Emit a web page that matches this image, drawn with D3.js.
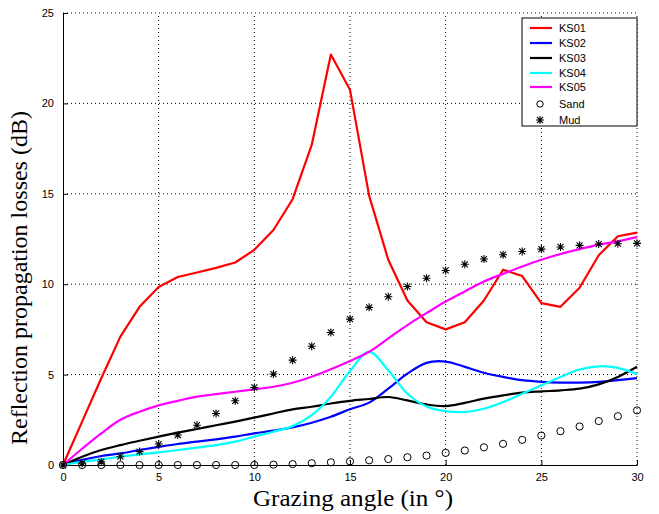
<!DOCTYPE html>
<html>
<head>
<meta charset="utf-8">
<script src="https://cdn.jsdelivr.net/npm/d3@7"></script>
<style>
  body { margin: 0; background: #fff; }
  svg { display: block; }
</style>
</head>
<body>
<div id="chart"></div>
<script>
// grazing angles (deg) and reflection losses (dB)
var angles = [0, 1, 2, 3, 4, 5, 6, 7, 8, 9, 10, 11, 12, 13, 14, 15, 16, 17, 18, 19, 20, 21, 22, 23, 24, 25, 26, 27, 28, 29, 30];
var ks01 = [0, 2.4, 4.8, 7.1, 8.75, 9.85, 10.4, 10.65, 10.9, 11.2, 11.9, 13.0, 14.7, 17.7, 22.7, 20.75, 14.9, 11.35, 9.1, 7.9, 7.5, 7.9, 9.1, 10.8, 10.45, 8.95, 8.75, 9.8, 11.6, 12.65, 12.85];
var ks02 = [0, 0.28, 0.5, 0.64, 0.83, 1.0, 1.16, 1.29, 1.42, 1.57, 1.75, 1.9, 2.08, 2.34, 2.67, 3.08, 3.45, 4.22, 5.05, 5.65, 5.72, 5.43, 5.1, 4.87, 4.69, 4.6, 4.56, 4.56, 4.6, 4.69, 4.8];
var ks03 = [0, 0.46, 0.83, 1.1, 1.34, 1.57, 1.79, 1.99, 2.2, 2.4, 2.62, 2.85, 3.08, 3.22, 3.4, 3.55, 3.65, 3.76, 3.57, 3.35, 3.26, 3.44, 3.67, 3.85, 4.0, 4.07, 4.13, 4.22, 4.46, 4.87, 5.43];
var ks04 = [0, 0.18, 0.31, 0.46, 0.59, 0.7, 0.83, 0.96, 1.1, 1.29, 1.57, 1.84, 2.15, 2.76, 3.78, 5.2, 6.26, 5.24, 3.94, 3.24, 2.98, 2.93, 3.11, 3.48, 3.94, 4.41, 4.87, 5.28, 5.46, 5.37, 5.02];
var ks05 = [0, 0.9, 1.75, 2.5, 2.95, 3.3, 3.55, 3.78, 3.92, 4.05, 4.18, 4.33, 4.55, 4.88, 5.29, 5.75, 6.26, 7.0, 7.74, 8.4, 9.04, 9.6, 10.15, 10.57, 10.98, 11.35, 11.67, 11.94, 12.19, 12.37, 12.6];
var sand = [0, 0, 0, 0, 0, 0, 0, 0, 0, 0, 0, 0.02, 0.05, 0.1, 0.15, 0.2, 0.26, 0.33, 0.43, 0.52, 0.67, 0.8, 0.98, 1.17, 1.39, 1.63, 1.87, 2.13, 2.43, 2.7, 3.02];
var mud = [0, 0.1, 0.18, 0.46, 0.74, 1.16, 1.66, 2.2, 2.85, 3.55, 4.29, 5.03, 5.8, 6.57, 7.33, 8.07, 8.72, 9.31, 9.87, 10.33, 10.76, 11.1, 11.39, 11.63, 11.81, 11.94, 12.06, 12.15, 12.22, 12.24, 12.26];

var xTicks = [0, 5, 10, 15, 20, 25, 30];
var yTicks = [0, 5, 10, 15, 20, 25];

var lineNames = ["KS01", "KS02", "KS03", "KS04", "KS05"];
var lineData = [ks01, ks02, ks03, ks04, ks05];
var lineColors = ["#ff0000", "#0000ff", "#000000", "#00ffff", "#ff00ff"];

var W = 659, H = 514;
var margin = { left: 63, right: 22, top: 13, bottom: 49 };

var svg = d3.select("#chart").append("svg")
  .attr("width", W)
  .attr("height", H);

var x = d3.scaleLinear().domain([0, 30]).range([margin.left, W - margin.right]);
var y = d3.scaleLinear().domain([0, 25]).range([H - margin.bottom, margin.top]);

// dotted grid
var grid = svg.append("g").attr("stroke", "#000").attr("stroke-width", 1).attr("stroke-dasharray", "1,3");
grid.selectAll("line.gx")
  .data(xTicks.filter(function (d) { return d > 0; }))
  .enter().append("line")
  .attr("x1", function (d) { return x(d); })
  .attr("x2", function (d) { return x(d); })
  .attr("y1", y(0))
  .attr("y2", y(25));
grid.selectAll("line.gy")
  .data(yTicks.filter(function (d) { return d > 0; }))
  .enter().append("line")
  .attr("x1", x(0))
  .attr("x2", x(30))
  .attr("y1", function (d) { return y(d); })
  .attr("y2", function (d) { return y(d); });

// axes (inward ticks)
var xAxis = d3.axisBottom(x).tickValues(xTicks).tickSizeInner(-5).tickSizeOuter(0).tickPadding(8);
var yAxis = d3.axisLeft(y).tickValues(yTicks).tickSizeInner(-5).tickSizeOuter(0).tickPadding(9);

var gx = svg.append("g").attr("transform", "translate(0," + y(0) + ")").call(xAxis);
var gy = svg.append("g").attr("transform", "translate(" + x(0) + ",0)").call(yAxis);
[gx, gy].forEach(function (g) {
  g.selectAll("path").attr("stroke", "#000").attr("stroke-width", 1);
  g.selectAll("line").attr("stroke", "#000");
  g.selectAll("text")
    .attr("fill", "#000")
    .style("font-family", "'Liberation Sans', Arial, sans-serif")
    .style("font-size", "11px");
});

// lines
var lineGen = d3.line()
  .x(function (d, i) { return x(angles[i]); })
  .y(function (d) { return y(d); });

lineData.forEach(function (series, k) {
  lineGen.curve(k === 0 ? d3.curveLinear : d3.curveCatmullRom.alpha(0.5));
  svg.append("path")
    .datum(series)
    .attr("d", lineGen)
    .attr("fill", "none")
    .attr("stroke", lineColors[k])
    .attr("stroke-width", 2.2)
    .attr("stroke-linejoin", "round");
});

// sand markers (circles)
svg.append("g").selectAll("circle")
  .data(sand)
  .enter().append("circle")
  .attr("cx", function (d, i) { return x(angles[i]); })
  .attr("cy", function (d) { return y(d); })
  .attr("r", 3.6)
  .attr("fill", "none")
  .attr("stroke", "#000")
  .attr("stroke-width", 1);

// asterisk marker path
function starPath(cx, cy) {
  var a = 4, b = 3;
  return "M" + (cx - a) + "," + cy + "L" + (cx + a) + "," + cy +
    "M" + cx + "," + (cy - a) + "L" + cx + "," + (cy + a) +
    "M" + (cx - b) + "," + (cy - b) + "L" + (cx + b) + "," + (cy + b) +
    "M" + (cx - b) + "," + (cy + b) + "L" + (cx + b) + "," + (cy - b);
}

svg.append("g").selectAll("path")
  .data(mud)
  .enter().append("path")
  .attr("d", function (d, i) { return starPath(x(angles[i]), y(d)); })
  .attr("stroke", "#000")
  .attr("stroke-width", 1.1)
  .attr("fill", "none");

// axis titles
svg.append("text")
  .attr("x", 353)
  .attr("y", 506)
  .attr("text-anchor", "middle")
  .style("font-family", "'Liberation Serif', 'Times New Roman', serif")
  .style("font-size", "23px")
  .attr("textLength", 200)
  .attr("lengthAdjust", "spacingAndGlyphs")
  .text("Grazing angle (in \u00b0)");

svg.append("text")
  .attr("transform", "translate(27,278) rotate(-90)")
  .attr("text-anchor", "middle")
  .style("font-family", "'Liberation Serif', 'Times New Roman', serif")
  .style("font-size", "24px")
  .text("Reflection propagation losses (dB)");

// legend
var lg = { x: 522, y: 18, w: 115, h: 108 };
svg.append("clipPath").attr("id", "legclip")
  .append("rect").attr("x", lg.x).attr("y", lg.y).attr("width", lg.w).attr("height", lg.h);

var leg = svg.append("g");
leg.append("rect")
  .attr("x", lg.x).attr("y", lg.y).attr("width", lg.w).attr("height", lg.h)
  .attr("fill", "#fff");

var legRows = leg.append("g").attr("clip-path", "url(#legclip)");
var rowY = [28, 43, 58, 73, 87, 104, 120];

lineNames.forEach(function (name, k) {
  legRows.append("line")
    .attr("x1", 530).attr("x2", 552)
    .attr("y1", rowY[k]).attr("y2", rowY[k])
    .attr("stroke", lineColors[k]).attr("stroke-width", 2.2);
});
legRows.append("circle")
  .attr("cx", 540).attr("cy", rowY[5]).attr("r", 3.2)
  .attr("fill", "none").attr("stroke", "#000");
legRows.append("path")
  .attr("d", starPath(540, rowY[6]))
  .attr("stroke", "#000").attr("stroke-width", 1.1);

var legNames = lineNames.concat(["Sand", "Mud"]);
legRows.selectAll("text")
  .data(legNames)
  .enter().append("text")
  .attr("x", 559)
  .attr("y", function (d, i) { return rowY[i]; })
  .attr("dy", "0.36em")
  .style("font-family", "'Liberation Sans', Arial, sans-serif")
  .style("font-size", "11px")
  .attr("fill", "#000")
  .text(function (d) { return d; });

leg.append("rect")
  .attr("x", lg.x).attr("y", lg.y).attr("width", lg.w).attr("height", lg.h)
  .attr("fill", "none").attr("stroke", "#000").attr("stroke-width", 1);
</script>
</body>
</html>
